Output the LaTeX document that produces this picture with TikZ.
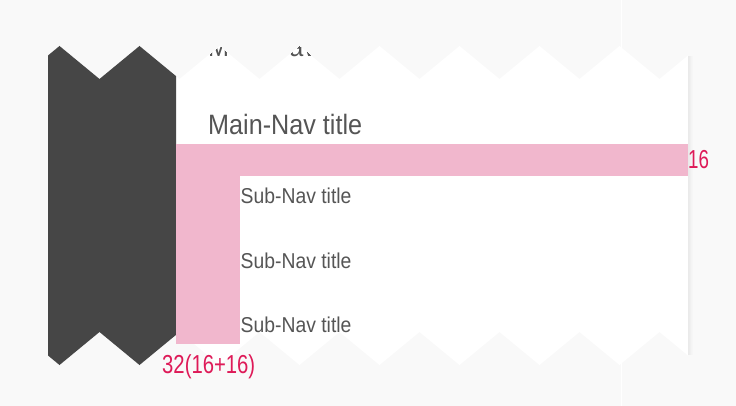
\documentclass[tikz,border=0pt]{standalone}
\usepackage{fontspec}
\setmainfont{Liberation Sans}
\newfontfamily\navfont{Liberation Sans}[FakeStretch=0.9]
\newfontfamily\lblfont{Liberation Sans}
\definecolor{bgc}{HTML}{F9F9F9}
\definecolor{darkc}{HTML}{464646}
\definecolor{pinkc}{HTML}{F1B7CD}
\definecolor{redc}{HTML}{DE1A58}
\definecolor{textc}{HTML}{555555}
\def\whitepath{(176,76.1) -- (179.5,79) -- (219.5,46) -- (259.5,79) -- (299.5,46) -- (339.5,79) -- (379.5,46) -- (419.5,79) -- (459.5,46) -- (499.5,79) -- (539.5,46) -- (579.5,79) -- (619.5,46) -- (659.5,79) -- (688,55.5) -- (688,355.5) -- (659.5,332) -- (619.5,365) -- (579.5,332) -- (539.5,365) -- (499.5,332) -- (459.5,365) -- (419.5,332) -- (379.5,365) -- (339.5,332) -- (299.5,365) -- (259.5,332) -- (219.5,365) -- (179.5,332) -- (176,334.9) -- cycle}
\tikzset{
  navtitle/.style={anchor=base west, inner sep=0pt, text=textc, font=\navfont\fontsize{28}{28}\selectfont},
  subtitle/.style={anchor=base west, inner sep=0pt, text=textc, font=\navfont\fontsize{21.5}{21.5}\selectfont},
  dimlabel/.style={anchor=base west, inner sep=0pt, text=redc, font=\lblfont\fontsize{26}{26}\selectfont},
  pinkbar/.style={fill=pinkc, draw=none}
}
\begin{document}
\begin{tikzpicture}[x=1pt, y=-1pt]
  \fill[bgc] (0,0) rectangle (736,406);
  \useasboundingbox (0,0) rectangle (736,406);
  % faint vertical guide
  \draw[white, line width=1pt] (621,0) -- (621,406);
  % shadow on the right edge of the white panel
  \foreach \dx/\op in {0.5/0.07, 1.5/0.05, 2.5/0.035, 3.5/0.02, 4.5/0.01}
    \draw[black, opacity=\op, line width=1pt] (688+\dx,56) -- (688+\dx,355);
  % white panel
  \fill[white] \whitepath;
  % dark panel
  \fill[darkc] (48,55.5) -- (59.5,46) -- (99.5,79) -- (139.5,46) -- (176,76.1) -- (176,334.9) -- (139.5,365) -- (99.5,332) -- (59.5,365) -- (48,355.5) -- cycle;
  % partially hidden title
  \begin{scope}
    \clip \whitepath;
    \node[navtitle] (hidden) at (208,57) {Main-Nav title};
  \end{scope}
  % pink spacing bars
  \fill[pinkbar] (176,144) rectangle (688,176);
  \fill[pinkbar] (176,176) rectangle (240,344);
  % titles
  \node[navtitle] (main) at (208,135) {Main-Nav title};
  \node[subtitle] (sub1) at (240.5,204) {Sub-Nav title};
  \node[subtitle] (sub2) at (240.5,268) {Sub-Nav title};
  \node[subtitle] (sub3) at (240.5,332) {Sub-Nav title};
  % dimension labels
  \node[dimlabel] (l16) at (688,169) {\scalebox{0.72}[1]{16}};
  \node[dimlabel] (l32) at (162,373) {\scalebox{0.78}[1]{32(16+16)}};
\end{tikzpicture}
\end{document}
